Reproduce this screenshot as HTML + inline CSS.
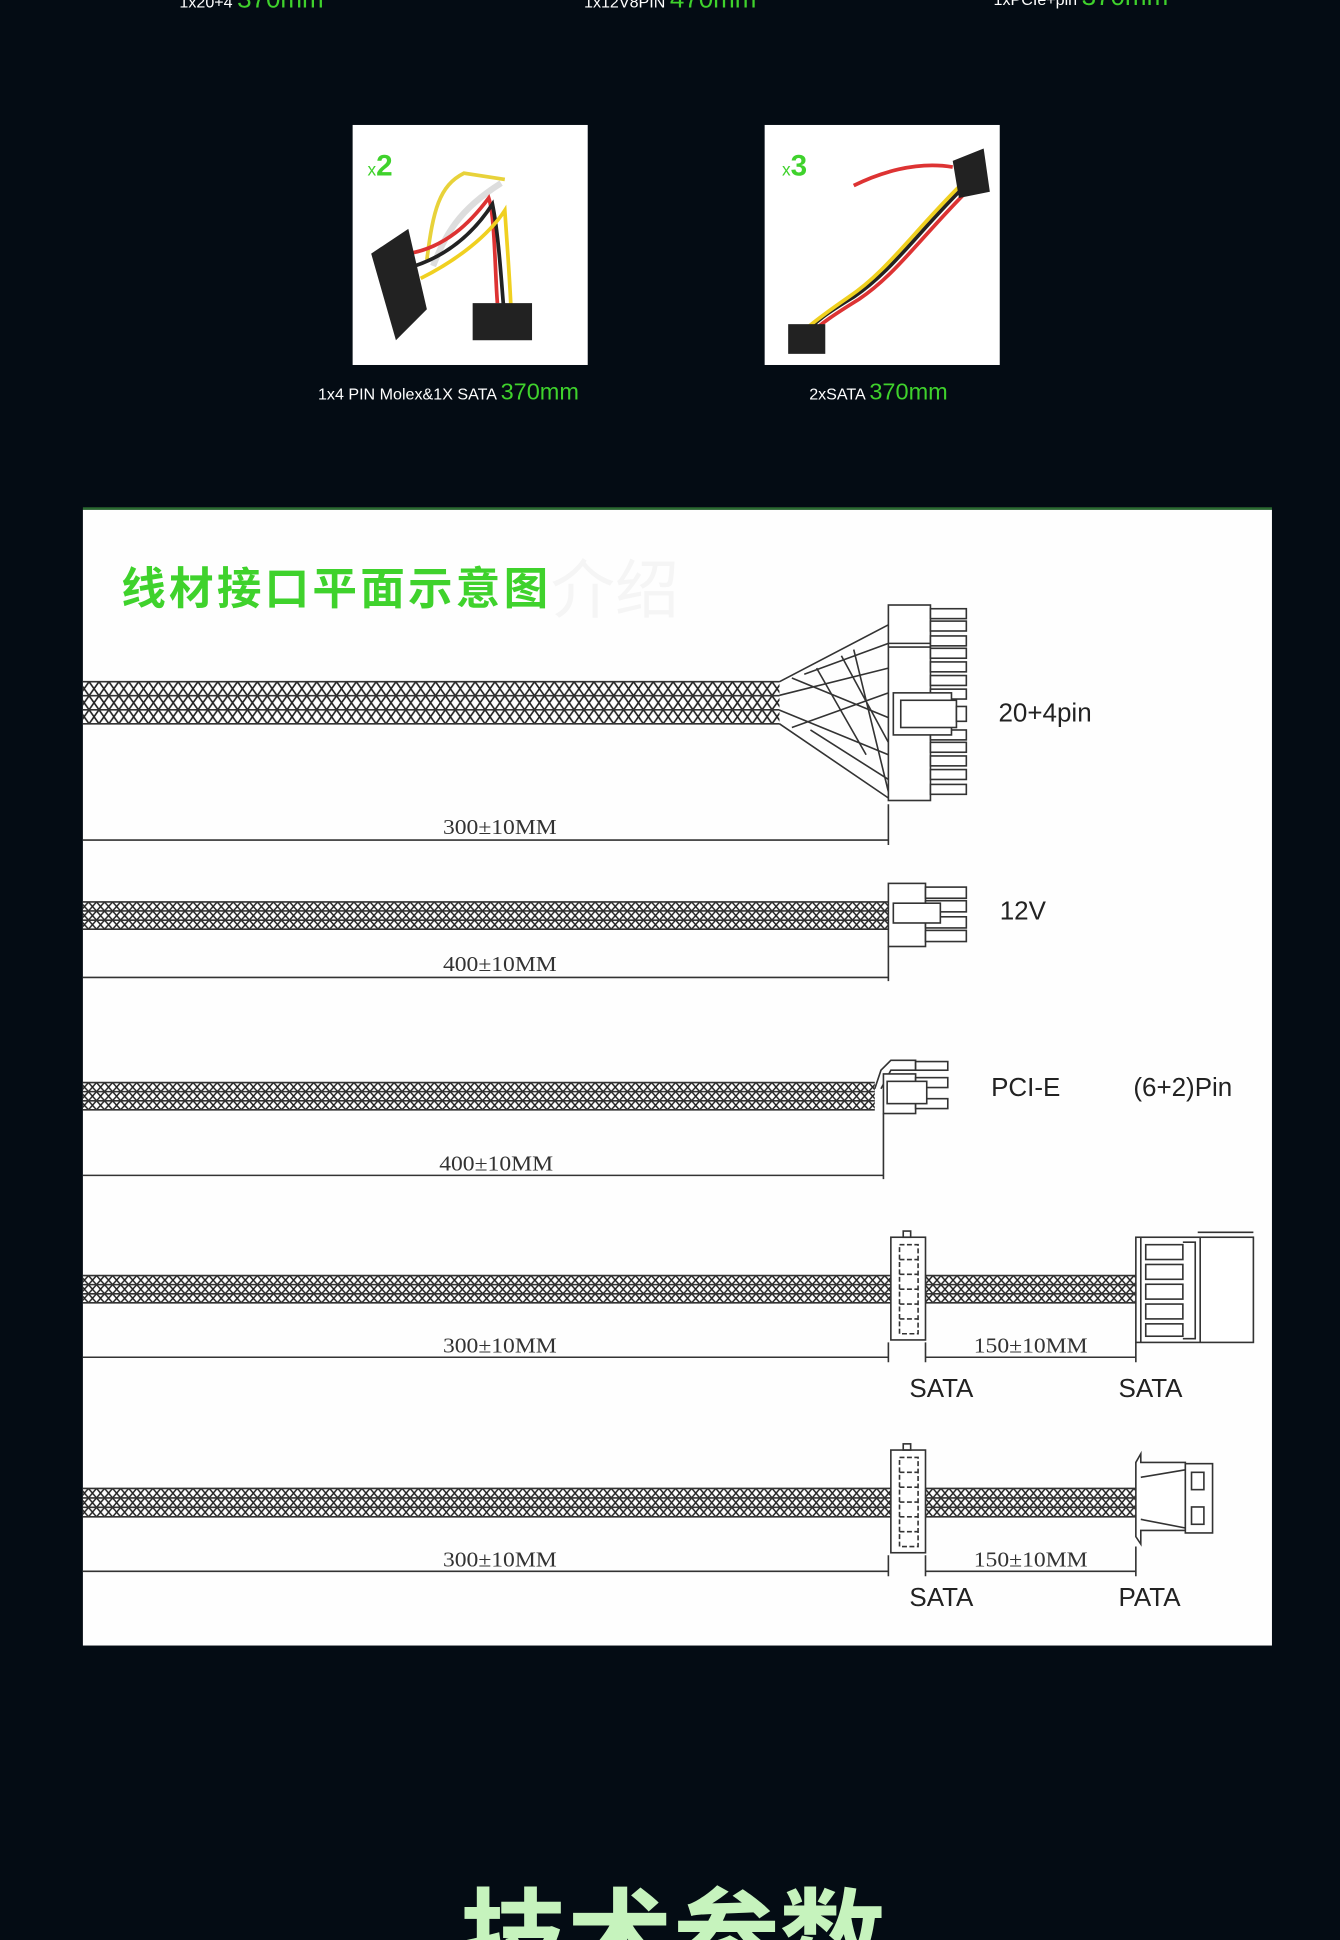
<!DOCTYPE html>
<html><head><meta charset="utf-8"><style>
html,body{margin:0;padding:0;background:#040c14;}
svg{display:block}
</style></head><body>
<svg width="1340" height="1940" viewBox="0 0 1083 1568" preserveAspectRatio="none" xmlns="http://www.w3.org/2000/svg">
<defs>
<pattern id="b1" patternUnits="userSpaceOnUse" x="0" y="551" width="16" height="11.33"><path d="M0 0L8 11.33L16 0M0 11.33L8 0L16 11.33" stroke="#222" stroke-width="1.3" fill="none"/></pattern>
<pattern id="b2" patternUnits="userSpaceOnUse" x="0" y="729" width="13" height="7.33"><path d="M0 0L6.5 7.33L13 0M0 7.33L6.5 0L13 7.33" stroke="#222" stroke-width="1.2" fill="none"/></pattern>
<pattern id="b3" patternUnits="userSpaceOnUse" x="0" y="875" width="13" height="7.33"><path d="M0 0L6.5 7.33L13 0M0 7.33L6.5 0L13 7.33" stroke="#222" stroke-width="1.2" fill="none"/></pattern>
<pattern id="b4" patternUnits="userSpaceOnUse" x="0" y="1031" width="13" height="7.33"><path d="M0 0L6.5 7.33L13 0M0 7.33L6.5 0L13 7.33" stroke="#222" stroke-width="1.2" fill="none"/></pattern>
<pattern id="b5" patternUnits="userSpaceOnUse" x="0" y="1203" width="13" height="7.67"><path d="M0 0L6.5 7.67L13 0M0 7.67L6.5 0L13 7.67" stroke="#222" stroke-width="1.2" fill="none"/></pattern>
</defs>
<rect width="1083" height="1568" fill="#040c14"/>
<g font-family="Liberation Sans, sans-serif">
<text x="145" y="6" font-size="13" fill="#fff">1x20+4 <tspan font-size="21" fill="#3fd22c">370mm</tspan></text>
<text x="472" y="6" font-size="13" fill="#fff">1x12V8PIN <tspan font-size="21" fill="#3fd22c">470mm</tspan></text>
<text x="803" y="4" font-size="13" fill="#fff">1xPCIe+pin <tspan font-size="21" fill="#3fd22c">370mm</tspan></text>
</g>
<rect x="285" y="101" width="190" height="194" fill="#fff"/>
<rect x="618" y="101" width="190" height="194" fill="#fff"/>
<text x="297" y="142" font-family="Liberation Sans, sans-serif" fill="#3fd22c" font-size="14">x<tspan font-size="24" font-weight="bold">2</tspan></text>
<text x="632" y="142" font-family="Liberation Sans, sans-serif" fill="#3fd22c" font-size="14">x<tspan font-size="24" font-weight="bold">3</tspan></text>
<g fill="none" stroke-width="3">
<path d="M345 210 C350 170,355 150,375 140 L408 145" stroke="#e8d23a"/>
<path d="M350 215 C360 190,370 170,405 148" stroke="#ddd" stroke-width="5"/>
<path d="M330 205 C360 200,380 180,395 160 C400 175,400 220,402 245" stroke="#d33"/>
<path d="M335 215 C365 205,385 185,398 165 C403 190,405 225,407 248" stroke="#222"/>
<path d="M340 225 C370 210,395 190,408 170 C410 200,412 225,413 250" stroke="#f0d020"/>
<path d="M690 150 C710 140,740 130,770 135" stroke="#d33"/>
<path d="M780 150 C740 190,720 220,690 240 C665 255,660 260,655 265" stroke="#222"/>
<path d="M776 150 C736 190,716 220,686 240 C660 258,656 262,651 266" stroke="#f0d020"/>
<path d="M784 152 C744 192,724 222,694 242 C668 258,664 262,659 266" stroke="#d33"/>
</g>
<g fill="#222">
<path d="M300 205 L330 185 L345 250 L320 275 Z"/>
<rect x="382" y="245" width="48" height="30"/>
<path d="M770 130 L795 120 L800 155 L775 160 Z"/>
<rect x="637" y="262" width="30" height="24"/>
</g>
<g font-family="Liberation Sans, sans-serif" fill="#fff" font-size="13">
<text x="257" y="323">1x4 PIN Molex&amp;1X SATA <tspan font-size="19" fill="#3fd22c">370mm</tspan></text>
<text x="654" y="323">2xSATA <tspan font-size="19" fill="#3fd22c">370mm</tspan></text>
</g>
<rect x="67" y="412" width="961" height="918" fill="#fefefe"/>
<rect x="67" y="410" width="961" height="2" fill="#2a6a30"/>
<text x="98" y="488" font-family="Liberation Sans, 'Noto Sans CJK SC', sans-serif" font-weight="bold" font-size="36" fill="#3fd22c" textLength="345">线材接口平面示意图</text>
<text x="445" y="495" font-family="'Noto Sans CJK SC', sans-serif" font-size="52" fill="#f5f5f5">介绍</text>
<g stroke="#333" stroke-width="1.3" fill="none">
<rect x="67" y="551" width="563" height="34" fill="url(#b1)" stroke="none"/>
<path d="M67 551H630M67 562.3H630M67 573.7H630M67 585H630"/>
<path d="M630 551L718 505M630 585L718 645M630 562L718 540M630 574L718 610M640 548L718 580M640 588L718 560"/>
<path d="M650 545L718 520M655 590L718 630M660 540L700 610M680 530L718 600M690 525L718 640"/>
<rect x="718" y="489" width="34" height="158" fill="#fff"/>
<path d="M718 520H752M718 523H752"/>
<g fill="#fff"><rect x="752" y="492" width="29" height="8"/><rect x="752" y="502" width="29" height="8"/><rect x="752" y="514" width="29" height="8"/><rect x="752" y="524" width="29" height="8"/><rect x="752" y="535" width="29" height="8"/><rect x="752" y="546" width="29" height="8"/><rect x="752" y="557" width="29" height="8"/><rect x="752" y="590" width="29" height="8"/><rect x="752" y="600" width="29" height="8"/><rect x="752" y="611" width="29" height="8"/><rect x="752" y="622" width="29" height="8"/><rect x="752" y="634" width="29" height="8"/></g>
<rect x="722" y="560" width="47" height="34" fill="#fff"/>
<rect x="728" y="566" width="45" height="22" fill="#fff"/>
<rect x="773" y="571" width="8" height="12" fill="#fff"/>
<path d="M718 650V683M67 679H718"/>
<rect x="67" y="729" width="651" height="22" fill="url(#b2)" stroke="none"/>
<path d="M67 729H718M67 736.3H718M67 743.7H718M67 751H718"/>
<rect x="718" y="714" width="30" height="51" fill="#fff"/>
<g fill="#fff"><rect x="748" y="717" width="33" height="9"/><rect x="748" y="728" width="33" height="9"/><rect x="748" y="741" width="33" height="9"/><rect x="748" y="752" width="33" height="9"/></g>
<rect x="722" y="730" width="38" height="16" fill="#fff"/>
<path d="M718 765V793M67 790H718"/>
<rect x="67" y="875" width="640" height="22" fill="url(#b3)" stroke="none"/>
<path d="M67 875H707M67 882.3H707M67 889.7H707M67 897H707"/>
<path d="M707 880L712 865L720 857H740V865H720L712 880"/>
<rect x="740" y="858" width="26" height="7" fill="#fff"/>
<rect x="714" y="868" width="26" height="32" fill="#fff"/>
<rect x="740" y="871" width="26" height="8" fill="#fff"/><rect x="740" y="888" width="26" height="8" fill="#fff"/>
<rect x="717" y="874" width="32" height="18" fill="#fff"/>
<path d="M714 900V953M67 950H714"/>
<rect x="67" y="1031" width="653" height="22" fill="url(#b4)" stroke="none"/>
<path d="M67 1031H720M67 1038.3H720M67 1045.7H720M67 1053H720"/>
<rect x="748" y="1031" width="170" height="22" fill="url(#b4)" stroke="none"/>
<path d="M748 1031H918M748 1038.3H918M748 1045.7H918M748 1053H918"/>
<rect x="720" y="1000" width="28" height="83" fill="#fff"/>
<rect x="730" y="995" width="6" height="5"/>
<path d="M727 1006h15v72h-15z" stroke-dasharray="4 2"/>
<path d="M727 1018H742M727 1030H742M727 1042H742M727 1054H742M727 1066H742" stroke-dasharray="4 2"/>
<rect x="918" y="1000" width="95" height="85" fill="#fff"/>
<path d="M922 1000V1085M970 1000V1085M968 996H1013"/>
<g fill="#fff"><rect x="926" y="1006" width="30" height="12"/><rect x="926" y="1022" width="30" height="12"/><rect x="926" y="1038" width="30" height="12"/><rect x="926" y="1054" width="30" height="12"/><rect x="926" y="1070" width="30" height="10"/></g>
<path d="M956 1004H966V1082H956"/>
<path d="M718 1085V1101M67 1097H718M748 1085V1101M748 1097H918M918 1085V1101"/>
<rect x="67" y="1203" width="653" height="23" fill="url(#b5)" stroke="none"/>
<path d="M67 1203H720M67 1210.7H720M67 1218.3H720M67 1226H720"/>
<rect x="748" y="1203" width="170" height="23" fill="url(#b5)" stroke="none"/>
<path d="M748 1203H918M748 1210.7H918M748 1218.3H918M748 1226H918"/>
<rect x="720" y="1172" width="28" height="83" fill="#fff"/>
<rect x="730" y="1167" width="6" height="5"/>
<path d="M727 1178h15v72h-15z" stroke-dasharray="4 2"/>
<path d="M727 1190H742M727 1202H742M727 1214H742M727 1226H742M727 1238H742" stroke-dasharray="4 2"/>
<path d="M918 1182L922 1175V1182H958V1237H922V1248L918 1242Z" fill="#fff"/>
<path d="M922 1194L958 1188M922 1228L958 1235"/>
<rect x="958" y="1183" width="22" height="56" fill="#fff"/>
<rect x="963" y="1190" width="10" height="14"/><rect x="963" y="1218" width="10" height="14"/>
<path d="M718 1257V1274M67 1270H718M748 1257V1274M748 1270H918M918 1250V1274"/>
</g>
<g font-family="Liberation Serif, serif" font-size="17" fill="#333">
<text x="358" y="674" textLength="92" lengthAdjust="spacingAndGlyphs">300±10MM</text>
<text x="358" y="785" textLength="92" lengthAdjust="spacingAndGlyphs">400±10MM</text>
<text x="355" y="946" textLength="92" lengthAdjust="spacingAndGlyphs">400±10MM</text>
<text x="358" y="1093" textLength="92" lengthAdjust="spacingAndGlyphs">300±10MM</text>
<text x="787" y="1093" textLength="92" lengthAdjust="spacingAndGlyphs">150±10MM</text>
<text x="358" y="1266" textLength="92" lengthAdjust="spacingAndGlyphs">300±10MM</text>
<text x="787" y="1266" textLength="92" lengthAdjust="spacingAndGlyphs">150±10MM</text>
</g>
<g font-family="Liberation Sans, sans-serif" font-size="21" fill="#222">
<text x="807" y="583">20+4pin</text>
<text x="808" y="743">12V</text>
<text x="801" y="886">PCI-E</text>
<text x="916" y="886">(6+2)Pin</text>
<text x="735" y="1129">SATA</text>
<text x="904" y="1129">SATA</text>
<text x="735" y="1298">SATA</text>
<text x="904" y="1298">PATA</text>
</g>
<text x="544" y="1598" text-anchor="middle" font-family="Liberation Sans, 'Noto Sans CJK SC', sans-serif" font-weight="bold" font-size="86" fill="#c6f3bd">技术参数</text>
</svg>
</body></html>
